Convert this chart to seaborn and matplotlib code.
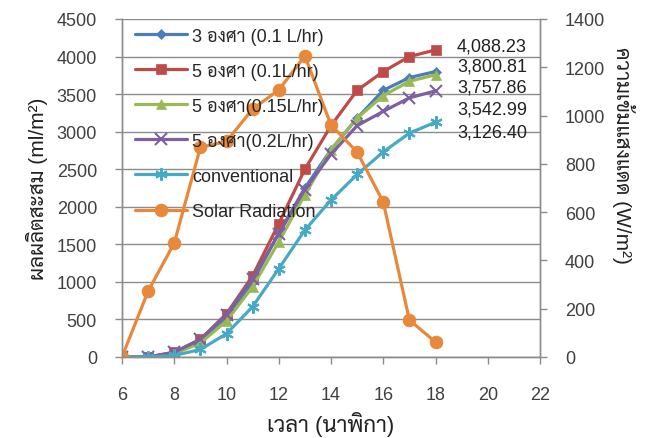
import matplotlib
matplotlib.use("Agg")
import matplotlib.pyplot as plt
import seaborn as sns
import pandas as pd

hours = [6, 7, 8, 9, 10, 11, 12, 13, 14, 15, 16, 17, 18]
s_3deg_01 = [0, 0, 50, 200, 520, 1000, 1650, 2250, 2760, 3180, 3550, 3720, 3800.81]
s_5deg_01 = [0, 0, 65, 235, 575, 1080, 1775, 2500, 3080, 3550, 3800, 4000, 4088.23]
s_5deg_015 = [0, 0, 45, 185, 480, 935, 1535, 2160, 2760, 3180, 3480, 3670, 3757.86]
s_5deg_02 = [0, 0, 60, 235, 565, 1040, 1640, 2230, 2700, 3080, 3270, 3450, 3542.99]
s_conv = [0, 0, 20, 100, 310, 670, 1175, 1690, 2090, 2430, 2730, 2980, 3126.40]
solar = [0, 273, 472, 868, 893, 1027, 1106, 1247, 961, 849, 642, 153, 62]

labels = ["3 องศา (0.1 L/hr)", "5 องศา (0.1L/hr)", "5 องศา(0.15L/hr)",
          "5 องศา(0.2L/hr)", "conventional", "Solar Radiation"]
final_labels = ["4,088.23", "3,800.81", "3,757.86", "3,542.99", "3,126.40"]
left_ticks = list(range(0, 4501, 500))
right_ticks = list(range(0, 1401, 200))
x_ticks = list(range(6, 23, 2))

sns.set_style("white")
plt.rcParams['font.family'] = ['Liberation Sans', 'Sarabun']

colors = ["#4A7EBB", "#BE4B48", "#98B954", "#7D60A0", "#46AAC5", "#E8883A"]
markers = ["D", "s", "^", "x", (6, 2, 0), "o"]
msizes = [5, 7, 7, 8, 9, 9]

fig = plt.figure(figsize=(6.56, 4.39), dpi=100)
ax = fig.add_axes([122/656, 1 - 358/439, (540-122)/656, (358-20)/439])
ax2 = ax.twinx()

series = [s_3deg_01, s_5deg_01, s_5deg_015, s_5deg_02, s_conv]
for vals, c, m, ms, lab in zip(series, colors[:5], markers[:5], msizes[:5], labels[:5]):
    df = pd.DataFrame({"h": hours, "v": vals})
    sns.lineplot(data=df, x="h", y="v", ax=ax, color=c, marker=m, markersize=ms,
                 linewidth=2.3, markeredgecolor=c, markeredgewidth=1.5 if m in ("x", (6, 2, 0)) else 0.5,
                 label=lab, legend=False)
df = pd.DataFrame({"h": hours, "v": solar})
sns.lineplot(data=df, x="h", y="v", ax=ax2, color=colors[5], marker="o", markersize=9,
             linewidth=2.3, markeredgecolor=colors[5], label=labels[5], legend=False)

ax.set_xlim(6, 22)
ax.set_ylim(0, 4500)
ax2.set_ylim(0, 1400)
ax.set_xticks(x_ticks)
ax.set_yticks(left_ticks)
ax2.set_yticks(right_ticks)
ax.yaxis.grid(True, color="#8C8C8C", linewidth=1)
ax.xaxis.grid(False)
ax2.grid(False)

gray = "#8C8C8C"
for a in (ax, ax2):
    for sp in a.spines.values():
        sp.set_color(gray)
        sp.set_linewidth(1)
    a.spines["top"].set_visible(False)
ax.tick_params(axis="y", direction="out", length=5, width=1, color=gray, pad=13,
               labelsize=13, labelcolor="#404040", left=True)
ax.tick_params(axis="x", direction="out", length=5, width=1, color=gray, pad=16,
               labelsize=13, labelcolor="#404040", bottom=True)
ax2.tick_params(axis="y", direction="out", length=5, width=1, color=gray, pad=13,
                labelsize=13, labelcolor="#404040", right=True)

ax.set_xlabel("เวลา (นาพิกา)", fontsize=16, color="#222222", labelpad=6)
ax.set_ylabel("ผลผลิตสะสม (ml/m²)", fontsize=15, color="#222222", labelpad=6)
ax2.set_ylabel("ความเข้มแสงแดด (W/m²)", fontsize=15, color="#222222", rotation=270,
               ha="center", va="center", rotation_mode="anchor")
ax2.yaxis.set_label_coords(1.2, 0.6)

label_y = [4141, 3874, 3595, 3302, 2996]
for txt, yv in zip(final_labels, label_y):
    ax.text(21.5, yv, txt, ha="right", va="center", fontsize=13, color="#222222")

h1, l1 = ax.get_legend_handles_labels()
h2, l2 = ax2.get_legend_handles_labels()
leg = ax2.legend(h1 + h2, l1 + l2, loc="upper left", bbox_to_anchor=(0.0, 1.012),
                 frameon=False, fontsize=13, handlelength=2.9, labelspacing=1.0,
                 handletextpad=0.3, borderaxespad=0.3)

fig.savefig("out.png", dpi=100)
